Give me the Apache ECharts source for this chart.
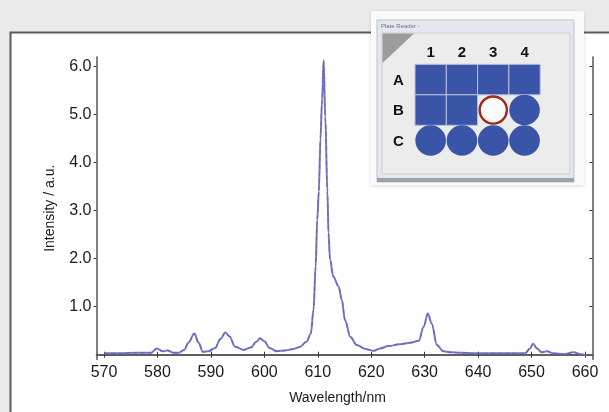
<!DOCTYPE html>
<html>
<head>
<meta charset="utf-8">
<script src="https://cdn.jsdelivr.net/npm/echarts@6/dist/echarts.min.js"></script>
<style>
html,body{margin:0;padding:0;background:#ebebeb;}
#chart{width:609px;height:412px;}
</style>
</head>
<body>
<div id="chart"></div>
<script>
// ---- data ----
var wavelengths = [570.0, 573.0, 576.0, 578.8, 579.9, 581.0, 581.9, 583.0, 584.0, 585.0, 585.8, 586.9, 587.7, 588.5, 589.5, 590.8, 591.8, 592.7, 593.5, 594.5, 596.1, 597.5, 598.5, 599.2, 600.0, 601.0, 602.3, 604.0, 605.5, 606.6, 607.9, 608.7, 609.2, 609.6, 609.9, 610.2, 610.5, 610.8, 611.1, 611.4, 611.8, 612.0, 612.3, 612.9, 613.9, 614.5, 615.1, 616.1, 617.3, 618.9, 620.4, 621.7, 623.2, 625.4, 627.3, 628.9, 629.8, 630.6, 631.3, 632.3, 633.5, 634.8, 637.0, 639.2, 642.0, 645.4, 648.8, 649.7, 650.3, 651.0, 651.9, 652.9, 654.1, 656.0, 657.9, 659.1, 660.2];
var intensity = [0.03, 0.03, 0.04, 0.04, 0.13, 0.07, 0.09, 0.04, 0.04, 0.10, 0.25, 0.44, 0.25, 0.06, 0.07, 0.14, 0.33, 0.46, 0.38, 0.17, 0.10, 0.15, 0.27, 0.34, 0.28, 0.14, 0.07, 0.09, 0.12, 0.16, 0.27, 0.44, 0.93, 1.84, 2.81, 3.40, 4.50, 5.30, 6.13, 4.95, 3.40, 2.54, 1.98, 1.63, 1.42, 1.14, 0.72, 0.37, 0.20, 0.12, 0.08, 0.13, 0.18, 0.22, 0.25, 0.29, 0.58, 0.86, 0.65, 0.20, 0.07, 0.05, 0.04, 0.03, 0.03, 0.03, 0.03, 0.13, 0.23, 0.13, 0.05, 0.07, 0.03, 0.01, 0.05, 0.01, -0.01];
var xTicks = [570, 580, 590, 600, 610, 620, 630, 640, 650, 660];
var yTicks = [1, 2, 3, 4, 5, 6];
var plateRows = ['A', 'B', 'C'];
var plateCols = ['1', '2', '3', '4'];
// s = square well, c = circular well, sel = selected (empty) well
var plateState = [
  ['s', 's', 's', 's'],
  ['s', 's', 'sel', 'c'],
  ['c', 'c', 'c', 'c']
];

// ---- build ----
var seriesData = wavelengths.map(function (w, i) { return [w, intensity[i]]; });
var FONT = '"Liberation Sans", Arial, Helvetica, sans-serif';
var AXIS_COLOR = '#555';

// inset (plate reader window) graphics
var IX = 377, IY = 20, CELL_W = 31.3, CELL_H = 30.5, GX = 415, GY = 64.3;
var BLUE = '#3a54a8';
var g = [];
// outer frame panel
g.push({ type: 'rect', z: -10, silent: true, shape: { x: 10.5, y: 32.5, width: 700, height: 500 },
  style: { fill: '#ffffff', stroke: '#5a5a5a', lineWidth: 2 } });
// inset halo + shadow
g.push({ type: 'rect', z: 100, shape: { x: 371, y: 11, width: 213, height: 174 },
  style: { fill: '#fafafa', shadowBlur: 4, shadowColor: 'rgba(0,0,0,0.15)', shadowOffsetY: 1 } });
g.push({ type: 'rect', z: 101, shape: { x: IX, y: IY, width: 197, height: 162 },
  style: { fill: '#e3e8ee', stroke: '#b9c3ce', lineWidth: 1 } });
g.push({ type: 'rect', z: 101, shape: { x: IX, y: IY + 158, width: 197, height: 4 },
  style: { fill: '#9aa2ac' } });
g.push({ type: 'text', z: 102, style: { text: 'Plate Reader -', x: IX + 4, y: IY + 3, fill: '#6a7080', font: '6px ' + FONT } });
g.push({ type: 'rect', z: 102, shape: { x: 382, y: 33, width: 188, height: 141 },
  style: { fill: '#ececec', stroke: '#cfcfcf', lineWidth: 1 } });
g.push({ type: 'polygon', z: 103, shape: { points: [[382.5, 33.5], [414, 33.5], [382.5, 63]] },
  style: { fill: '#9c9c9c' } });
plateCols.forEach(function (c, j) {
  g.push({ type: 'text', z: 104, style: { text: c, x: GX + CELL_W * (j + 0.5), y: 53, align: 'center', verticalAlign: 'middle',
    fill: '#111', font: 'bold 15px ' + FONT } });
});
plateRows.forEach(function (r, i) {
  g.push({ type: 'text', z: 104, style: { text: r, x: 398.5, y: GY + CELL_H * (i + 0.5) + 1, align: 'center', verticalAlign: 'middle',
    fill: '#111', font: 'bold 15px ' + FONT } });
  plateCols.forEach(function (c, j) {
    var st = plateState[i][j];
    var x0 = GX + CELL_W * j, y0 = GY + CELL_H * i;
    if (st === 's') {
      g.push({ type: 'rect', z: 104, shape: { x: x0, y: y0, width: CELL_W, height: CELL_H },
        style: { fill: BLUE, stroke: '#b8c0dc', lineWidth: 1 } });
    } else if (st === 'c') {
      g.push({ type: 'circle', z: 104, shape: { cx: x0 + CELL_W / 2, cy: y0 + CELL_H / 2, r: 15.3 },
        style: { fill: BLUE } });
    } else {
      g.push({ type: 'circle', z: 104, shape: { cx: x0 + CELL_W / 2, cy: y0 + CELL_H / 2, r: 13.6 },
        style: { fill: '#fbfbfb', stroke: '#9b2c1c', lineWidth: 2.4 } });
    }
  });
});

function valueAxisBase(min, max, ticks) {
  return {
    type: 'value', min: min, max: max,
    axisLine: { show: true, lineStyle: { color: AXIS_COLOR, width: 1.5 } },
    splitLine: { show: false },
    axisTick: { show: true, customValues: ticks, length: 3, inside: true, lineStyle: { color: '#333', width: 1 } },
    axisLabel: { show: false, customValues: ticks }
  };
}

var xBottom = valueAxisBase(568.6, 661.4, xTicks);
xBottom.position = 'bottom';
xBottom.axisLabel = { show: true, customValues: xTicks, margin: 5, color: '#1a1a1a', fontSize: 16, fontFamily: FONT,
  formatter: function (v) { return String(Math.round(v)); } };
xBottom.name = 'Wavelength/nm';
xBottom.nameLocation = 'middle';
xBottom.nameGap = 32;
xBottom.nameTextStyle = { color: '#1a1a1a', fontSize: 14, fontFamily: FONT, padding: [0, 14, 0, 0] };
var xTop = valueAxisBase(568.6, 661.4, xTicks);
xTop.position = 'top';

var yLeft = valueAxisBase(-0.1, 6.2, yTicks);
yLeft.position = 'left';
yLeft.axisTick.inside = false;
yLeft.axisLabel = { show: true, customValues: yTicks, margin: 5, color: '#1a1a1a', fontSize: 16, fontFamily: FONT,
  formatter: function (v) { return v.toFixed(1); } };
yLeft.name = 'Intensity / a.u.';
yLeft.nameLocation = 'middle';
yLeft.nameGap = 39;
yLeft.nameTextStyle = { color: '#1a1a1a', fontSize: 14, fontFamily: FONT };
var yRight = valueAxisBase(-0.1, 6.2, yTicks);
yRight.position = 'right';

var chart = echarts.init(document.getElementById('chart'), null, { renderer: 'canvas' });
chart.setOption({
  animation: false,
  backgroundColor: '#ebebeb',
  grid: { left: 96.5, right: 16.5, top: 57, bottom: 52.5, containLabel: false, outerBoundsMode: 'none' },
  xAxis: [xBottom, xTop],
  yAxis: [yLeft, yRight],
  graphic: g,
  series: [
    { type: 'line', xAxisIndex: 0, yAxisIndex: 0, data: seriesData, showSymbol: false, smooth: 0.35, smoothMonotone: 'x',
      lineStyle: { color: '#d2525a', width: 1.2, type: 'dashed' }, z: 2 },
    { type: 'line', xAxisIndex: 0, yAxisIndex: 0, data: seriesData, showSymbol: false, smooth: 0.35, smoothMonotone: 'x',
      lineStyle: { color: '#5a68c4', width: 2, opacity: 0.85 }, z: 3 }
  ]
});
</script>
</body>
</html>
